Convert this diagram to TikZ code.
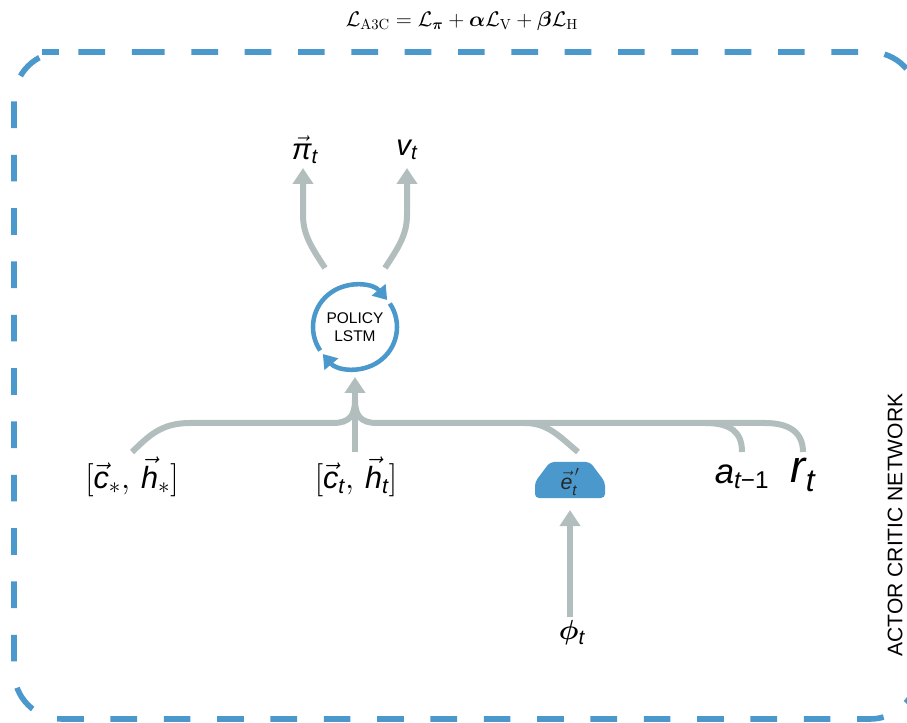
\documentclass[tikz,border=0pt]{standalone}
\usepackage{amsmath,bm}
\usepackage[no-math]{fontspec}
\setmainfont{Liberation Sans}
\usetikzlibrary{arrows.meta}
\definecolor{acblue}{RGB}{74,152,204}
\definecolor{acgray}{RGB}{178,190,190}
\newcommand{\sv}[1]{\text{\itshape #1}}
\tikzset{
  bus/.style={draw=acgray, line width=4.5pt},
  busarrow/.style={bus, -{Triangle[width=15pt,length=12pt]}},
  lbl/.style={inner sep=0pt, font=\fontsize{22}{24}\selectfont},
  dashbox/.style={draw=acblue, line width=4.2pt, dash pattern=on 20pt off 20pt, rounded corners=36pt},
  loop/.style={draw=acblue, line width=3.4pt, -{Triangle[width=13pt,length=10pt]}},
}
\begin{document}
\begin{tikzpicture}[x=0.75pt,y=0.75pt]
\useasboundingbox (0,0) rectangle (907,-723);
% dashed frame
\draw[dashbox] (90,-52) -- (918,-52) -- (918,-719) -- (14,-719) -- (14,-52) -- cycle;
% title
\node[inner sep=0pt, font=\fontsize{14.4}{16}\selectfont] (title) at (462,-21)
  {\scalebox{1.1}{$\mathcal{L}_{\mathrm{A3C}} = \mathcal{L}_{\bm{\pi}} + \bm{\alpha}\mathcal{L}_{\mathrm{V}} + \bm{\beta}\mathcal{L}_{\mathrm{H}}$}};
% side label
\node[rotate=90, inner sep=0pt, font=\fontsize{15.8}{18}\selectfont] (acn) at (895,-525) {ACTOR CRITIC NETWORK};
% LSTM
\node[circle, minimum size=63pt, inner sep=0pt, align=center, font=\fontsize{11.6}{13.5}\selectfont] (lstm) at (355,-327) {POLICY\\LSTM};
\draw[loop] ([shift={(214:42)}]lstm.center) arc[start angle=214, end angle=40, radius=42];
\draw[loop] ([shift={(34:42)}]lstm.center) arc[start angle=34, end angle=-140, radius=42];
% outputs
\node[lbl] (pi) at (305,-150) {$\vec{\sv{π}}_{\sv{t}}$};
\node[lbl] (v) at (407,-150) {$\sv{v}_{\sv{t}}$};
\coordinate (lstmL) at (325,-268);
\coordinate (lstmR) at (385,-268);
\coordinate (piB) at (303,-168);
\coordinate (vB) at (407,-168);
\draw[busarrow] (lstmL) .. controls (312,-248) and (303,-235) .. (303,-215) -- (piB);
\draw[busarrow] (lstmR) .. controls (398,-248) and (407,-235) .. (407,-215) -- (vB);
% inputs
\node[lbl, font=\fontsize{23}{25}\selectfont] (cs) at (132,-477) {$[\vec{\sv{c}}_*,\,\vec{\sv{h}}_*]$};
\node[lbl, font=\fontsize{23}{25}\selectfont] (ct) at (356,-477) {$[\vec{\sv{c}}_{\sv{t}},\,\vec{\sv{h}}_{\sv{t}}]$};
\fill[acblue, rounded corners=3pt] (535,-498) -- (535,-482) -- (550,-462) -- (590,-462) -- (605,-482) -- (605,-498) -- cycle;
\node[lbl, font=\fontsize{16}{18}\selectfont, text=black!85] (e) at (570,-482) {$\vec{\sv{e}}_{\sv{t}}^{\,\prime}$};
\node[lbl, font=\fontsize{26}{28}\selectfont] (a) at (742,-477) {$\sv{a}_{\sv{t}\text{−1}}$};
\node[lbl, font=\fontsize{34}{36}\selectfont] (r) at (803,-475) {$\sv{r}_{\sv{t}}$};
\node[lbl, font=\fontsize{22}{24}\selectfont] (phi) at (572,-633) {$\bm{\phi}_{\sv{t}}$};
\coordinate (csT) at (132,-452);
\coordinate (ctT) at (355,-452);
\coordinate (eT) at (578,-452);
\coordinate (aT) at (742,-452);
\coordinate (rT) at (803,-452);
\coordinate (lstmIn) at (355,-377);
\coordinate (phiT) at (570,-617);
\coordinate (eB) at (570,-510);
\draw[bus] (csT) .. controls (148,-437) and (160,-423) .. (190,-423) -- (333,-423) .. controls (350,-423) and (355,-415) .. (355,-400);
\draw[bus] (rT) .. controls (803,-433) and (790,-423) .. (765,-423) -- (377,-423) .. controls (360,-423) and (355,-415) .. (355,-400);
\draw[busarrow] (ctT) -- (lstmIn);
\draw[bus] (eT) .. controls (560,-437) and (548,-423) .. (525,-423);
\draw[bus] (aT) .. controls (742,-433) and (732,-423) .. (705,-423);
\draw[busarrow] (phiT) -- (eB);
\end{tikzpicture}
\end{document}
